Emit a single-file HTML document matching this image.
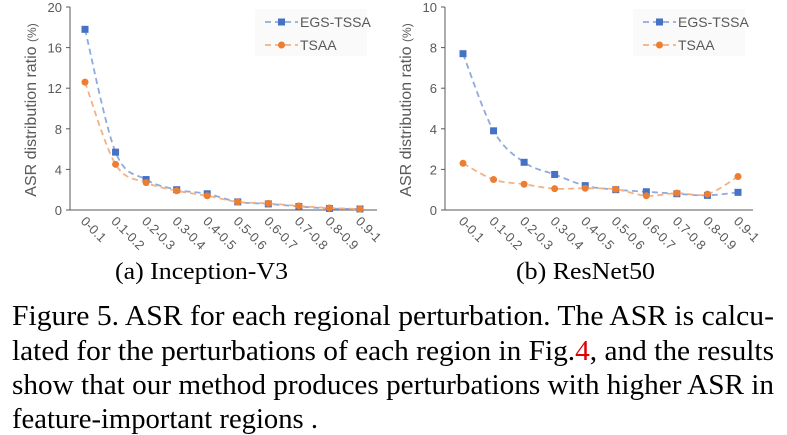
<!DOCTYPE html>
<html><head><meta charset="utf-8"><style>
html,body{margin:0;padding:0;background:#fff;}
svg{display:block;}
</style></head><body>
<svg id="fig" width="787" height="435" xmlns="http://www.w3.org/2000/svg">
<g id="chartA"></g>
<g id="chartB"></g>
<g font-family="Liberation Serif, serif" fill="#000">
<text x="115" y="279" font-size="24" textLength="173" lengthAdjust="spacingAndGlyphs">(a) Inception-V3</text>
<text x="516" y="279" font-size="24" textLength="139" lengthAdjust="spacingAndGlyphs">(b) ResNet50</text>
<text x="12" y="325" font-size="29" textLength="762" lengthAdjust="spacingAndGlyphs">Figure 5. ASR for each regional perturbation. The ASR is calcu-</text>
<text x="12" y="360" font-size="29" textLength="762" lengthAdjust="spacingAndGlyphs">lated for the perturbations of each region in Fig.<tspan fill="#e00000">4</tspan>, and the results</text>
<text x="12" y="394" font-size="29" textLength="762" lengthAdjust="spacingAndGlyphs">show that our method produces perturbations with higher ASR in</text>
<text x="12" y="428" font-size="29" textLength="306" lengthAdjust="spacingAndGlyphs">feature-important regions .</text>
</g>
</svg>
<script>
const categories = ["0-0.1","0.1-0.2","0.2-0.3","0.3-0.4","0.4-0.5","0.5-0.6","0.6-0.7","0.7-0.8","0.8-0.9","0.9-1"];
const egsA = [17.8,5.7,3.0,2.0,1.6,0.8,0.6,0.35,0.15,0.1];
const tsaaA = [12.6,4.5,2.7,1.9,1.4,0.8,0.65,0.4,0.2,0.1];
const ticksA = [0,4,8,12,16,20];
const egsB = [7.7,3.9,2.35,1.75,1.2,1.0,0.9,0.8,0.72,0.87];
const tsaaB = [2.3,1.5,1.27,1.05,1.07,1.02,0.7,0.83,0.78,1.65];
const ticksB = [0,2,4,6,8,10];

const NS="http://www.w3.org/2000/svg";
function mk(tag,attrs,parent){const e=document.createElementNS(NS,tag);for(const k in attrs)e.setAttribute(k,attrs[k]);parent.appendChild(e);return e;}
function smooth(pts){let d="M"+pts[0][0]+","+pts[0][1];for(let i=0;i<pts.length-1;i++){const p0=pts[i-1]||pts[i],p1=pts[i],p2=pts[i+1],p3=pts[i+2]||p2;const t=0.5/3;d+=" C"+(p1[0]+(p2[0]-p0[0])*t)+","+(p1[1]+(p2[1]-p0[1])*t)+" "+(p2[0]-(p3[0]-p1[0])*t)+","+(p2[1]-(p3[1]-p1[1])*t)+" "+p2[0]+","+p2[1];}return d;}
function draw(g,x0,x1,firstX,lastX,ticks,egs,tsaa,legX){
  const yTop=7,yBot=210,ymax=ticks[ticks.length-1];
  const sx=i=>firstX+i*(lastX-firstX)/(categories.length-1);
  const sy=v=>yBot-v/ymax*(yBot-yTop);
  const bg=mk("rect",{x:legX-10,y:9,width:112,height:47,fill:"#fafafa"},g);
  
  
  let e=mk("line",{x1:x0,x2:x0,y1:yTop,y2:yBot,stroke:"#595959","stroke-width":1},g);
  
  
  e=mk("line",{x1:x0,x2:x1,y1:yBot,y2:yBot,stroke:"#595959","stroke-width":1},g);
  
  
  ticks.forEach(t=>{
    mk("line",{x1:x0-4,x2:x0,y1:sy(t),y2:sy(t),stroke:"#595959"},g);
    const tx=mk("text",{x:x0-8,y:sy(t)+5,"font-size":13,"text-anchor":"end",fill:"#595959","font-family":"Liberation Sans, sans-serif"},g);
    tx.textContent=t;
    
    
  });
  categories.forEach((c,i)=>{
    const x=sx(i)-5,y=222;
    const tx=mk("text",{x:x,y:y,"font-size":13,fill:"#595959","font-family":"Liberation Sans, sans-serif",transform:"rotate(45 "+x+" "+y+")"},g);
    tx.textContent=c;
    
    
  });
  const yl=mk("text",{x:0,y:0,"font-size":16,fill:"#595959","text-anchor":"middle","font-family":"Liberation Sans, sans-serif",transform:"translate("+(x0-34)+",110) rotate(-90)"},g);
  yl.innerHTML='ASR distribution ratio <tspan font-size="12">(%)</tspan>';
  
  
  const series=[[egs,"#4472c4","#8faadc","sq","EGS-TSSA"],[tsaa,"#ed7d31","#f4b183","ci","TSAA"]];
  series.forEach((s,k)=>{
    const pts=s[0].map((v,i)=>[sx(i),sy(v)]);
    const p=mk("path",{d:smooth(pts),fill:"none",stroke:s[2],"stroke-width":1.8,"stroke-dasharray":"6,4"},g);
    
    
    pts.forEach(q=>{
      const m=s[3]=="sq"?mk("rect",{x:q[0]-3.5,y:q[1]-3.5,width:7,height:7,fill:s[1]},g):mk("circle",{cx:q[0],cy:q[1],r:3.5,fill:s[1]},g);
      
      
    });
    const ly=22+k*23;
    mk("line",{x1:legX,x2:legX+33,y1:ly,y2:ly,stroke:s[2],"stroke-width":1.8,"stroke-dasharray":"6,4"},g);
    if(s[3]=="sq")mk("rect",{x:legX+13,y:ly-3.5,width:7,height:7,fill:s[1]},g);else mk("circle",{cx:legX+16.5,cy:ly,r:3.5,fill:s[1]},g);
    const lt=mk("text",{x:legX+35,y:ly+5,"font-size":14,fill:"#595959","font-family":"Liberation Sans, sans-serif"},g);
    lt.textContent=s[4];
    
    
  });
}
draw(document.getElementById("chartA"),70,377,85,360,ticksA,egsA,tsaaA,265);
draw(document.getElementById("chartB"),445,753,463,738,ticksB,egsB,tsaaB,643);
</script>
</body></html>
